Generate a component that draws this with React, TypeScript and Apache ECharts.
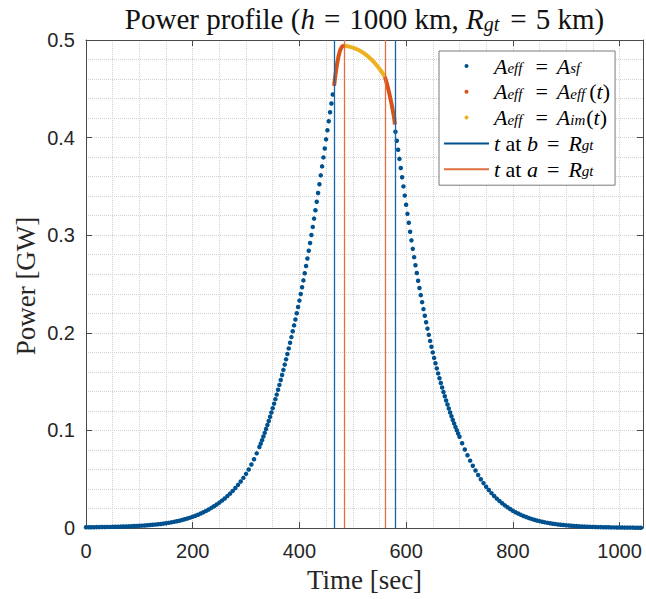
import React, { useEffect, useRef } from 'react';
import * as echarts from 'echarts';

// ---------- data ----------
const xTickValues = [0, 200, 400, 600, 800, 1000];
const yTickValues = [0, 0.1, 0.2, 0.3, 0.4, 0.5];

// A_eff = A_sf  (blue dots), in four sampled stretches
const sfLeftTailStart = 0;
const sfLeftTailStep = 5;
const sfLeftTail = [
  0.0007, 0.0007, 0.0008, 0.0008, 0.0009, 0.0009, 0.0010, 0.0010, 0.0011, 0.0011,
  0.0012, 0.0013, 0.0013, 0.0014, 0.0015, 0.0016, 0.0017, 0.0018, 0.0020, 0.0021,
  0.0023, 0.0024, 0.0026, 0.0028, 0.0030, 0.0033, 0.0035, 0.0038, 0.0041, 0.0045,
  0.0049, 0.0053, 0.0058, 0.0063, 0.0069, 0.0075, 0.0082, 0.0090, 0.0098, 0.0106,
  0.0115, 0.0125, 0.0136, 0.0148, 0.0161, 0.0175, 0.0190, 0.0206, 0.0223, 0.0241,
  0.0260, 0.0281, 0.0303, 0.0327, 0.0352, 0.0380, 0.0410, 0.0442, 0.0477, 0.0514,
  0.0555, 0.0600, 0.0650, 0.0705, 0.0765, 0.0830,
];
const sfLeftRiseStart = 327.5;
const sfLeftRiseStep = 2.5;
const sfLeftRise = [
  0.0864, 0.0900, 0.0937, 0.0975, 0.1014, 0.1055, 0.1097, 0.1140, 0.1183, 0.1228,
  0.1274, 0.1320, 0.1367, 0.1416, 0.1466, 0.1516, 0.1567, 0.1620, 0.1674, 0.1728,
  0.1783, 0.1840, 0.1898, 0.1956, 0.2016, 0.2076, 0.2137, 0.2200, 0.2264, 0.2330,
  0.2397, 0.2466, 0.2537, 0.2610, 0.2685, 0.2762, 0.2840, 0.2920, 0.3002, 0.3085,
  0.3170, 0.3256, 0.3343, 0.3432, 0.3522, 0.3613, 0.3705, 0.3797, 0.3889, 0.3982,
  0.4075, 0.4167, 0.4259, 0.4350, 0.4441,
];
const sfRightFallStart = 580;
const sfRightFallStep = 2.5;
const sfRightFall = [
  0.4060, 0.3968, 0.3875, 0.3782, 0.3688, 0.3594, 0.3500, 0.3406, 0.3312, 0.3219,
  0.3127, 0.3036, 0.2947, 0.2860, 0.2775, 0.2692, 0.2612, 0.2534, 0.2459, 0.2386,
  0.2314, 0.2243, 0.2175, 0.2108, 0.2043, 0.1979, 0.1917, 0.1857, 0.1799, 0.1743,
  0.1688, 0.1635, 0.1584, 0.1534, 0.1486, 0.1439, 0.1394, 0.1350, 0.1307, 0.1265,
  0.1224, 0.1184, 0.1145, 0.1107, 0.1070, 0.1035, 0.1001, 0.0968,
];
const sfRightTailStart = 700;
const sfRightTailStep = 5;
const sfRightTail = [
  0.0935, 0.0868, 0.0805, 0.0746, 0.0690, 0.0638, 0.0589, 0.0543, 0.0500, 0.0460,
  0.0423, 0.0389, 0.0357, 0.0328, 0.0301, 0.0276, 0.0253, 0.0232, 0.0212, 0.0194,
  0.0177, 0.0162, 0.0148, 0.0135, 0.0123, 0.0112, 0.0102, 0.0093, 0.0085, 0.0077,
  0.0070, 0.0064, 0.0058, 0.0053, 0.0048, 0.0044, 0.0040, 0.0036, 0.0033, 0.0030,
  0.0027, 0.0025, 0.0023, 0.0021, 0.0019, 0.0017, 0.0016, 0.0014, 0.0013, 0.0012,
  0.0011, 0.0010, 0.0009, 0.0009, 0.0008, 0.0007, 0.0007, 0.0006, 0.0006, 0.0005,
  0.0005, 0.0005, 0.0004, 0.0004, 0.0004, 0.0004, 0.0003, 0.0003, 0.0003,
];

// A_eff = A_eff(t)  (orange), two stretches
const effLeftTimes = [465, 467, 469, 471, 473, 475, 477, 479, 481, 484];
const effLeftValues = [0.4530, 0.4620, 0.4700, 0.4768, 0.4825, 0.4870, 0.4903, 0.4925, 0.4937, 0.4942];
const effRightTimes = [560, 562.5, 565, 567.5, 570, 572.5, 575, 577.5, 579];
const effRightValues = [0.4625, 0.4580, 0.4530, 0.4475, 0.4415, 0.4350, 0.4280, 0.4205, 0.4135];

// A_eff = A_im(t)  (yellow)
const imTimes = [484, 490, 495, 500, 505, 510, 515, 520, 525, 530, 535, 540, 545, 550, 555, 560];
const imValues = [0.4942, 0.4937, 0.4930, 0.4922, 0.4912, 0.4900, 0.4885, 0.4868, 0.4848, 0.4826, 0.4800, 0.4772, 0.4740, 0.4705, 0.4667, 0.4625];

// vertical markers
const bTimes = [465, 579]; // t at b = R_gt
const aTimes = [484, 560]; // t at a = R_gt

// ---------- styling ----------
const SERIF = 'Liberation Serif, Times New Roman, serif';
const SANS = 'Liberation Sans, Arial, sans-serif';
const BLUE = '#00518f';
const BLUE_LINE = '#1565a8';
const ORANGE = '#D95319';
const ORANGE_LINE = '#e0703f';
const YELLOW = '#EDB120';
const AXIS = '#4a4a4a';
const TXT = '#262626';

const nameSf = 'A_eff = A_sf';
const nameEff = 'A_eff = A_eff(t)';
const nameIm = 'A_eff = A_im(t)';
const nameB = 't at b = R_gt';
const nameA = 't at a = R_gt';

const legendRich: Record<string, string> = {
  [nameSf]: '{i|A}{eff|eff}{e|=}{i|A}{sf|sf}',
  [nameEff]: '{i|A}{eff|eff}{e|=}{i|A}{eff|eff}{n|(}{i|t}{n|)}',
  [nameIm]: '{i|A}{eff|eff}{e|=}{i|A}{im|im}{n|(}{i|t}{n|)}',
  [nameB]: '{i|t}{n| at }{i|b}{e|=}{i|R}{gt|gt}',
  [nameA]: '{i|t}{n| at }{i|a}{e|=}{i|R}{gt|gt}',
};

function segment(start: number, step: number, values: number[]) {
  return values.map((v, i) => [start + i * step, v]);
}
function pairs(times: number[], values: number[]) {
  return times.map((t, i) => [t, values[i]]);
}

const sfData = [
  ...segment(sfLeftTailStart, sfLeftTailStep, sfLeftTail),
  ...segment(sfLeftRiseStart, sfLeftRiseStep, sfLeftRise),
  ...segment(sfRightFallStart, sfRightFallStep, sfRightFall),
  ...segment(sfRightTailStart, sfRightTailStep, sfRightTail),
];

const LINE_ICON = 'path://M0 0H45V2H0Z';

const gridLine = { color: '#d2d2d2', type: 'dotted', width: 1 };

function subStyle(width: number) {
  return {
    fontFamily: SERIF, fontStyle: 'italic', fontSize: 15, lineHeight: 8, color: '#000',
    verticalAlign: 'bottom', width, align: 'left',
  };
}

function buildOption() {
  const legendTextRich = {
    i: { fontFamily: SERIF, fontStyle: 'italic', fontSize: 22, lineHeight: 19, color: '#000' },
    n: { fontFamily: SERIF, fontSize: 22, lineHeight: 19, color: '#000' },
    e: { fontFamily: SERIF, fontSize: 22, lineHeight: 19, color: '#000', padding: [0, 9, 0, 9] },
    eff: subStyle(19),
    sf: subStyle(13),
    im: subStyle(16),
    gt: subStyle(14),
  };
  return {
    animation: false,
    backgroundColor: '#ffffff',
    grid: { left: 86, top: 40, width: 557, height: 488, outerBoundsMode: 'none' },
    xAxis: [
      {
        type: 'value', position: 'bottom', min: 0, max: 1044, interval: 200,
        axisLine: { show: true, onZero: false, lineStyle: { color: AXIS, width: 1 } },
        axisTick: { show: true, inside: true, length: 6, lineStyle: { color: AXIS } },
        axisLabel: {
          show: true, margin: 13, color: TXT, fontFamily: SANS, fontSize: 20,
          customValues: xTickValues,
          formatter: (v: number) => String(v),
        },
        splitLine: { show: true, lineStyle: gridLine },
      },
      {
        type: 'value', position: 'top', min: 0, max: 1044, interval: 200,
        axisLine: { show: true, onZero: false, lineStyle: { color: AXIS, width: 1 } },
        axisTick: { show: true, inside: true, length: 6, lineStyle: { color: AXIS } },
        axisLabel: { show: false },
        splitLine: { show: false },
      },
      {
        type: 'value', position: 'bottom', min: 0, max: 1044, interval: 50,
        axisLine: { show: false }, axisTick: { show: false }, axisLabel: { show: false },
        splitLine: { show: true, lineStyle: gridLine },
      },
    ],
    yAxis: [
      {
        type: 'value', position: 'left', min: 0, max: 0.5, interval: 0.1,
        axisLine: { show: true, onZero: false, lineStyle: { color: AXIS, width: 1 } },
        axisTick: { show: true, inside: true, length: 6, lineStyle: { color: AXIS } },
        axisLabel: {
          show: true, margin: 11, color: TXT, fontFamily: SANS, fontSize: 20,
          customValues: yTickValues,
          formatter: (v: number) => String(Math.round(v * 10) / 10),
        },
        splitLine: { show: true, lineStyle: gridLine },
        minorTick: { show: false, splitNumber: 5 },
        minorSplitLine: { show: true, lineStyle: gridLine },
      },
      {
        type: 'value', position: 'right', min: 0, max: 0.5, interval: 0.1,
        axisLine: { show: true, onZero: false, lineStyle: { color: AXIS, width: 1 } },
        axisTick: { show: true, inside: true, length: 6, lineStyle: { color: AXIS } },
        axisLabel: { show: false },
        splitLine: { show: false },
      },
    ],
    legend: {
      orient: 'vertical',
      left: 439,
      top: 51,
      itemWidth: 45,
      itemHeight: 4,
      itemGap: 3.8,
      padding: [4, 5, 5, 5],
      backgroundColor: '#ffffff',
      borderColor: '#7a7a7a',
      borderWidth: 1,
      borderRadius: 0,
      selectedMode: false,
      data: [
        { name: nameSf, icon: 'circle' },
        { name: nameEff, icon: 'circle' },
        { name: nameIm, icon: 'circle' },
        { name: nameB, icon: LINE_ICON },
        { name: nameA, icon: LINE_ICON },
      ],
      formatter: (name: string) => legendRich[name] || name,
      textStyle: { fontFamily: SERIF, fontSize: 22, lineHeight: 19, color: '#000', rich: legendTextRich },
    },
    graphic: [
      {
        type: 'text', x: 364.5, y: 19, z: 100,
        style: {
          text: '{n|Power profile (}{i|h}{e|=}{n|1000 km, }{i|R}{s|gt}{e|=}{n|5 km)}',
          align: 'center', verticalAlign: 'middle',
          rich: {
            n: { fontFamily: SERIF, fontSize: 29, lineHeight: 30, fill: '#111' },
            i: { fontFamily: SERIF, fontStyle: 'italic', fontSize: 29, lineHeight: 30, fill: '#111' },
            e: { fontFamily: SERIF, fontSize: 29, lineHeight: 30, fill: '#111', padding: [0, 9, 0, 9] },
            s: { fontFamily: SERIF, fontStyle: 'italic', fontSize: 20, lineHeight: 12, fill: '#111', verticalAlign: 'bottom', padding: [0, 2, 0, 0] },
          },
        },
      },
      {
        type: 'text', x: 364.5, y: 580, z: 100,
        style: { text: 'Time [sec]', fontFamily: SERIF, fontSize: 27, fill: TXT, align: 'center', verticalAlign: 'middle' },
      },
      {
        type: 'text', x: 26, y: 286, rotation: Math.PI / 2, z: 100,
        style: { text: 'Power [GW]', fontFamily: SERIF, fontSize: 27, fill: TXT, align: 'center', verticalAlign: 'middle' },
      },
    ],
    series: [
      {
        name: nameSf, type: 'scatter', symbol: 'circle', symbolSize: 4.5,
        itemStyle: { color: BLUE, opacity: 1 }, data: sfData, z: 2, silent: true,
      },
      {
        name: nameEff, type: 'line', showSymbol: false, symbol: 'none',
        itemStyle: { color: ORANGE }, lineStyle: { color: ORANGE, width: 4 },
        data: pairs(effLeftTimes, effLeftValues), z: 3, silent: true,
      },
      {
        name: nameEff, type: 'line', showSymbol: false, symbol: 'none',
        itemStyle: { color: ORANGE }, lineStyle: { color: ORANGE, width: 4 },
        data: pairs(effRightTimes, effRightValues), z: 3, silent: true,
      },
      {
        name: nameIm, type: 'line', showSymbol: false, symbol: 'none',
        itemStyle: { color: YELLOW }, lineStyle: { color: YELLOW, width: 4 },
        data: pairs(imTimes, imValues), z: 3, silent: true,
      },
      {
        name: nameB, type: 'line', data: [], z: 4,
        itemStyle: { color: BLUE }, lineStyle: { color: BLUE, width: 2 },
        markLine: {
          silent: true, symbol: ['none', 'none'], label: { show: false },
          lineStyle: { color: BLUE_LINE, width: 1.3, type: 'solid' },
          data: bTimes.map((t) => ({ xAxis: t })),
        },
      },
      {
        name: nameA, type: 'line', data: [], z: 4,
        itemStyle: { color: ORANGE_LINE }, lineStyle: { color: ORANGE_LINE, width: 2 },
        markLine: {
          silent: true, symbol: ['none', 'none'], label: { show: false },
          lineStyle: { color: ORANGE_LINE, width: 1.3, type: 'solid' },
          data: aTimes.map((t) => ({ xAxis: t })),
        },
      },
    ],
  };
}

export default function App() {
  const ref = useRef<HTMLDivElement>(null);
  useEffect(() => {
    if (!ref.current) return;
    const chart = echarts.init(ref.current, null, { renderer: 'svg' });
    chart.setOption(buildOption() as any);
    return () => chart.dispose();
  }, []);
  return (
    <div
      ref={ref}
      style={{ position: 'fixed', left: 0, top: 0, width: 646, height: 599, background: '#fff' }}
    />
  );
}
